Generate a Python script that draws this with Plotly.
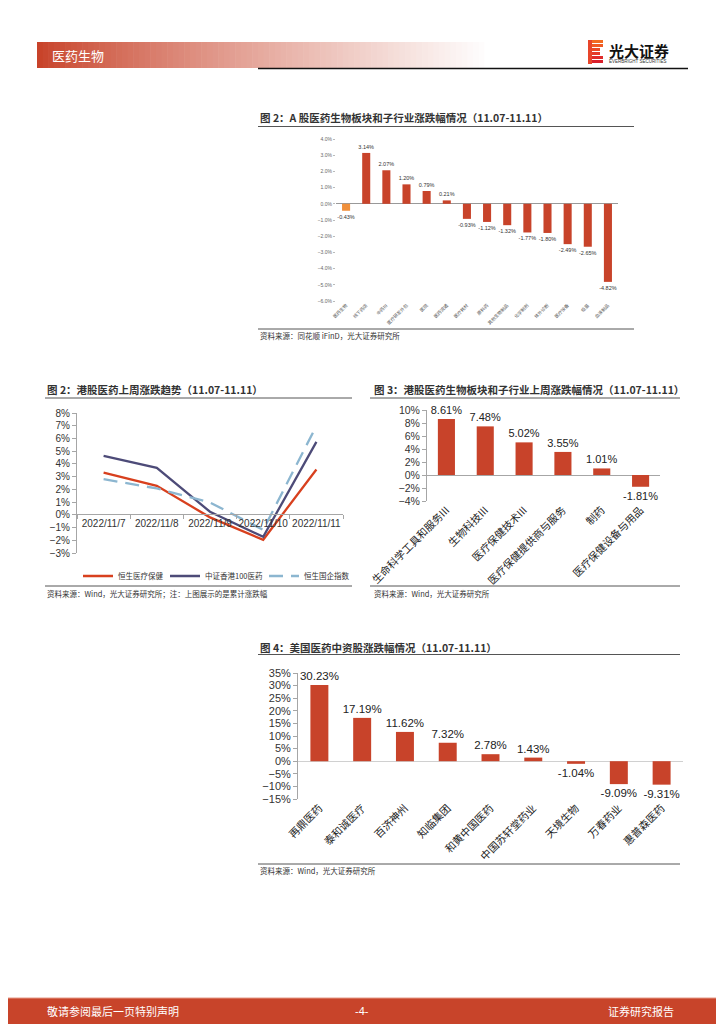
import plotly.graph_objects as go

# page is 724x1024; the html body adds an 8px margin, so the figure is 716x1016 offset by 8px
OFF = 8
W, H = 724 - OFF, 1024 - OFF
def fx(x): return (x - OFF) / W
def fy(y): return 1 - (y - OFF) / H

# ---------------- data ----------------
a_cats = ["医药生物", "线下药店", "中药Ⅲ", "医疗研发外包", "医院", "医药流通", "医疗耗材",
          "原料药", "其他生物制品", "化学制剂", "体外诊断", "医疗设备", "疫苗", "血液制品"]
a_vals = [-0.43, 3.14, 2.07, 1.20, 0.79, 0.21, -0.93, -1.12, -1.32, -1.77, -1.80, -2.49, -2.65, -4.82]

hk_dates = ["2022/11/7", "2022/11/8", "2022/11/9", "2022/11/10", "2022/11/11"]
hk_hsh = [3.32, 2.28, -0.20, -1.96, 3.56]      # 恒生医疗保健
hk_csi = [4.63, 3.69, 0.24, -1.73, 5.73]       # 中证香港100医药
hk_hscei = [2.80, 2.07, 0.97, -1.18, 6.99]     # 恒生国企指数

hk_cats = ["生命科学工具和服务III", "生物科技III", "医疗保健技术III", "医疗保健提供商与服务", "制药", "医疗保健设备与用品"]
hk_vals = [8.61, 7.48, 5.02, 3.55, 1.01, -1.81]

us_cats = ["再鼎医药", "泰和诚医疗", "百济神州", "知临集团", "和黄中国医药", "中国苏轩堂药业", "天境生物", "万春药业", "惠普森医药"]
us_vals = [30.23, 17.19, 11.62, 7.32, 2.78, 1.43, -1.04, -9.09, -9.31]

RED = "#c8432a"
ORANGE = "#f0903c"
CJK = "Noto Sans CJK SC"
NUM = "Liberation Sans, Arial, sans-serif"

fig = go.Figure()

# chart 1: A-share bars
fig.add_trace(go.Bar(
    x=a_cats, y=a_vals, xaxis="x", yaxis="y", width=0.4,
    marker=dict(color=[ORANGE] + [RED] * (len(a_vals) - 1), line=dict(width=0)),
    text=[f"{v:.2f}%" for v in a_vals], textposition="outside", cliponaxis=False, constraintext="none",
    textfont=dict(size=5.5, color="#333", family=NUM), showlegend=False, hoverinfo="skip"))

# chart 2: HK lines
fig.add_trace(go.Scatter(x=hk_dates, y=hk_hsh, xaxis="x2", yaxis="y2", mode="lines", legendwidth=42,
                         name="恒生医疗保健", line=dict(color="#d8401e", width=2.3)))
fig.add_trace(go.Scatter(x=hk_dates, y=hk_csi, xaxis="x2", yaxis="y2", mode="lines", legendwidth=54,
                         name="中证香港100医药", line=dict(color="#4d4b78", width=2.3)))
fig.add_trace(go.Scatter(x=hk_dates, y=hk_hscei, xaxis="x2", yaxis="y2", mode="lines", legendwidth=48,
                         name="恒生国企指数", line=dict(color="#8cb6d0", width=2.3, dash="14px,8px")))

# chart 3: HK sub-industry bars
fig.add_trace(go.Bar(
    x=hk_cats, y=hk_vals, xaxis="x3", yaxis="y3", width=0.44,
    marker=dict(color=RED, line=dict(width=0)),
    text=[f"{v:.2f}%" for v in hk_vals], textposition="outside", cliponaxis=False, constraintext="none",
    textfont=dict(size=11, color="#222", family=NUM), showlegend=False, hoverinfo="skip"))

# chart 4: US-listed bars
fig.add_trace(go.Bar(
    x=us_cats, y=us_vals, xaxis="x4", yaxis="y4", width=0.42,
    marker=dict(color=RED, line=dict(width=0)),
    text=[f"{v:.2f}%" for v in us_vals], textposition="outside", cliponaxis=False, constraintext="none",
    textfont=dict(size=11.5, color="#222", family=NUM), showlegend=False, hoverinfo="skip"))

axis_common = dict(showgrid=False, fixedrange=True, automargin=False)

layout = dict(
    width=W, height=H, margin=dict(l=0, r=0, t=0, b=0, autoexpand=False),
    paper_bgcolor="white", plot_bgcolor="rgba(0,0,0,0)",
    font=dict(family=CJK, color="#333"),
    # chart 1
    xaxis=dict(domain=[fx(336), fx(618)], anchor="y", showline=False, tickangle=-45,
               tickfont=dict(size=4.5, color="#555"), ticks="", **axis_common),
    yaxis=dict(domain=[fy(301), fy(139)], anchor="x", range=[-6, 4], dtick=1,
               tickformat=".1f", ticksuffix="%", tickfont=dict(size=5, color="#666", family=NUM),
               showline=False, ticks="outside", ticklen=2, tickcolor="#bbb",
               zeroline=True, zerolinecolor="#999", zerolinewidth=1, **axis_common),
    # chart 2
    xaxis2=dict(domain=[fx(77), fx(343)], anchor="free", position=fy(514), tickangle=0,
                range=[-0.5, len(hk_dates) - 0.5],
                showline=True, linecolor="#a6a6a6", linewidth=1,
                ticks="outside", tickson="boundaries", ticklen=4, tickcolor="#a6a6a6",
                tickfont=dict(size=10, color="#333", family=NUM), **axis_common),
    yaxis2=dict(domain=[fy(553), fy(413)], anchor="x2", range=[-3, 8], dtick=1,
                ticksuffix="%", tickfont=dict(size=10, color="#333", family=NUM),
                showline=True, linecolor="#a6a6a6", ticks="outside", ticklen=4, tickcolor="#a6a6a6",
                zeroline=False, **axis_common),
    # chart 3
    xaxis3=dict(domain=[fx(427), fx(660)], anchor="y3", showline=False, tickangle=-45,
                tickfont=dict(size=10.5, color="#222", family=CJK), ticks="", **axis_common),
    yaxis3=dict(domain=[fy(501), fy(410)], anchor="x3", range=[-4, 10], dtick=2,
                ticksuffix="%", tickfont=dict(size=10.5, color="#333", family=NUM),
                showline=True, linecolor="#a6a6a6", ticks="outside", ticklen=4, tickcolor="#a6a6a6",
                zeroline=True, zerolinecolor="#a6a6a6", zerolinewidth=1, **axis_common),
    # chart 4
    xaxis4=dict(domain=[fx(298), fx(683)], anchor="y4", showline=False, tickangle=-45,
                tickfont=dict(size=10.5, color="#222", family=CJK), ticks="", **axis_common),
    yaxis4=dict(domain=[fy(799), fy(673)], anchor="x4", range=[-15, 35], dtick=5,
                ticksuffix="%", tickfont=dict(size=11, color="#333", family=NUM),
                showline=True, linecolor="#a6a6a6", ticks="outside", ticklen=4, tickcolor="#a6a6a6",
                zeroline=True, zerolinecolor="#d0d0d0", zerolinewidth=1.2, **axis_common),
    legend=dict(orientation="h", x=fx(78), y=fy(576), xanchor="left", yanchor="middle",
                font=dict(size=7.5, color="#333", family=CJK), bgcolor="rgba(0,0,0,0)",
                tracegroupgap=0, itemwidth=30),
    showlegend=True,
)
fig.update_layout(**layout)

shapes = []
annotations = []

def hline(x0, x1, y, color="#333", width=1):
    shapes.append(dict(type="line", xref="paper", yref="paper", x0=fx(x0), x1=fx(x1),
                       y0=fy(y), y1=fy(y), line=dict(color=color, width=width)))

def text(x, y, s, size=8, color="#333", bold=False, xanchor="left", family=CJK):
    annotations.append(dict(xref="paper", yref="paper", x=fx(x), y=fy(y), text=(f"<b>{s}</b>" if bold else s),
                            showarrow=False, xanchor=xanchor, yanchor="middle",
                            font=dict(size=size, color=color, family=family)))

# header gradient band
x_start, x_end = 37, 490
n = 80
c0 = (200, 67, 42)
for i in range(n):
    t = i / (n - 1)
    tt = min(1, t ** 0.85)
    r = int(c0[0] + (255 - c0[0]) * tt)
    g = int(c0[1] + (255 - c0[1]) * tt)
    b = int(c0[2] + (255 - c0[2]) * tt)
    xa = x_start + (x_end - x_start) * i / n
    xb = x_start + (x_end - x_start) * (i + 1) / n + 0.6
    shapes.append(dict(type="rect", xref="paper", yref="paper", x0=fx(xa), x1=fx(xb),
                       y0=fy(68), y1=fy(42), line=dict(width=0), fillcolor=f"rgb({r},{g},{b})", layer="below"))
text(50, 55, "医药生物", size=13, color="white", bold=False)
hline(258, 688, 68.5, color="#111", width=1.5)

# logo
stripe_cols = ["#f26b21", "#ef5a24", "#ea4a26", "#e53a28", "#df2b2a", "#d91f2b"]
for i, c in enumerate(stripe_cols):
    y0 = 40 + i * 4
    shapes.append(dict(type="rect", xref="paper", yref="paper", x0=fx(588), x1=fx(603 if i not in (2, 3) else 600),
                       y0=fy(y0 + 3), y1=fy(y0), line=dict(width=0), fillcolor=c))
shapes.append(dict(type="rect", xref="paper", yref="paper", x0=fx(588), x1=fx(592),
                   y0=fy(64), y1=fy(40), line=dict(width=0), fillcolor="#e8452a"))
text(607, 50, "光大证券", size=15, color="#111", bold=True)
text(607, 61, "EVERBRIGHT SECURITIES", size=4.5, color="#333", family=NUM)

# chart 1 title / source
text(258, 117, "图 2：A 股医药生物板块和子行业涨跌幅情况（11.07-11.11）", size=10.5, color="#333", bold=True)
hline(258, 634, 126.5, color="#555", width=1)
hline(258, 634, 329, color="#555", width=1)
text(258, 335, "资料来源：同花顺 iFinD，光大证券研究所", size=7.5, color="#333")

# chart 2 title / source
text(45, 389, "图 2：港股医药上周涨跌趋势（11.07-11.11）", size=10.5, color="#333", bold=True)
hline(45, 352, 398, color="#555", width=1)
hline(45, 352, 586, color="#555", width=1)
text(45, 593, "资料来源：Wind，光大证券研究所；注：上图展示的是累计涨跌幅", size=7.5, color="#333")

# chart 3 title / source
text(372, 389, "图 3：港股医药生物板块和子行业上周涨跌幅情况（11.07-11.11）", size=10.5, color="#333", bold=True)
hline(370, 680, 398, color="#555", width=1)
hline(370, 680, 586, color="#555", width=1)
text(372, 593, "资料来源：Wind，光大证券研究所", size=7.5, color="#333")

# chart 4 title / source
text(258, 647, "图 4：美国医药中资股涨跌幅情况（11.07-11.11）", size=10.5, color="#333", bold=True)
hline(258, 680, 654.5, color="#555", width=1)
hline(258, 680, 864, color="#555", width=1)
text(258, 870, "资料来源：Wind，光大证券研究所", size=7.5, color="#333")

# footer
shapes.append(dict(type="rect", xref="paper", yref="paper", x0=0, x1=1, y0=0, y1=fy(998),
                   line=dict(width=0), fillcolor="#c8442a"))
hline(8, 724, 998, color="#e59a88", width=1)
text(45, 1011, "敬请参阅最后一页特别声明", size=11, color="white")
text(362, 1011, "-4-", size=11, color="white", xanchor="center", family=NUM)
text(676, 1011, "证券研究报告", size=11, color="white", xanchor="right")

fig.update_layout(shapes=shapes, annotations=annotations)
fig.write_html("out.html")
